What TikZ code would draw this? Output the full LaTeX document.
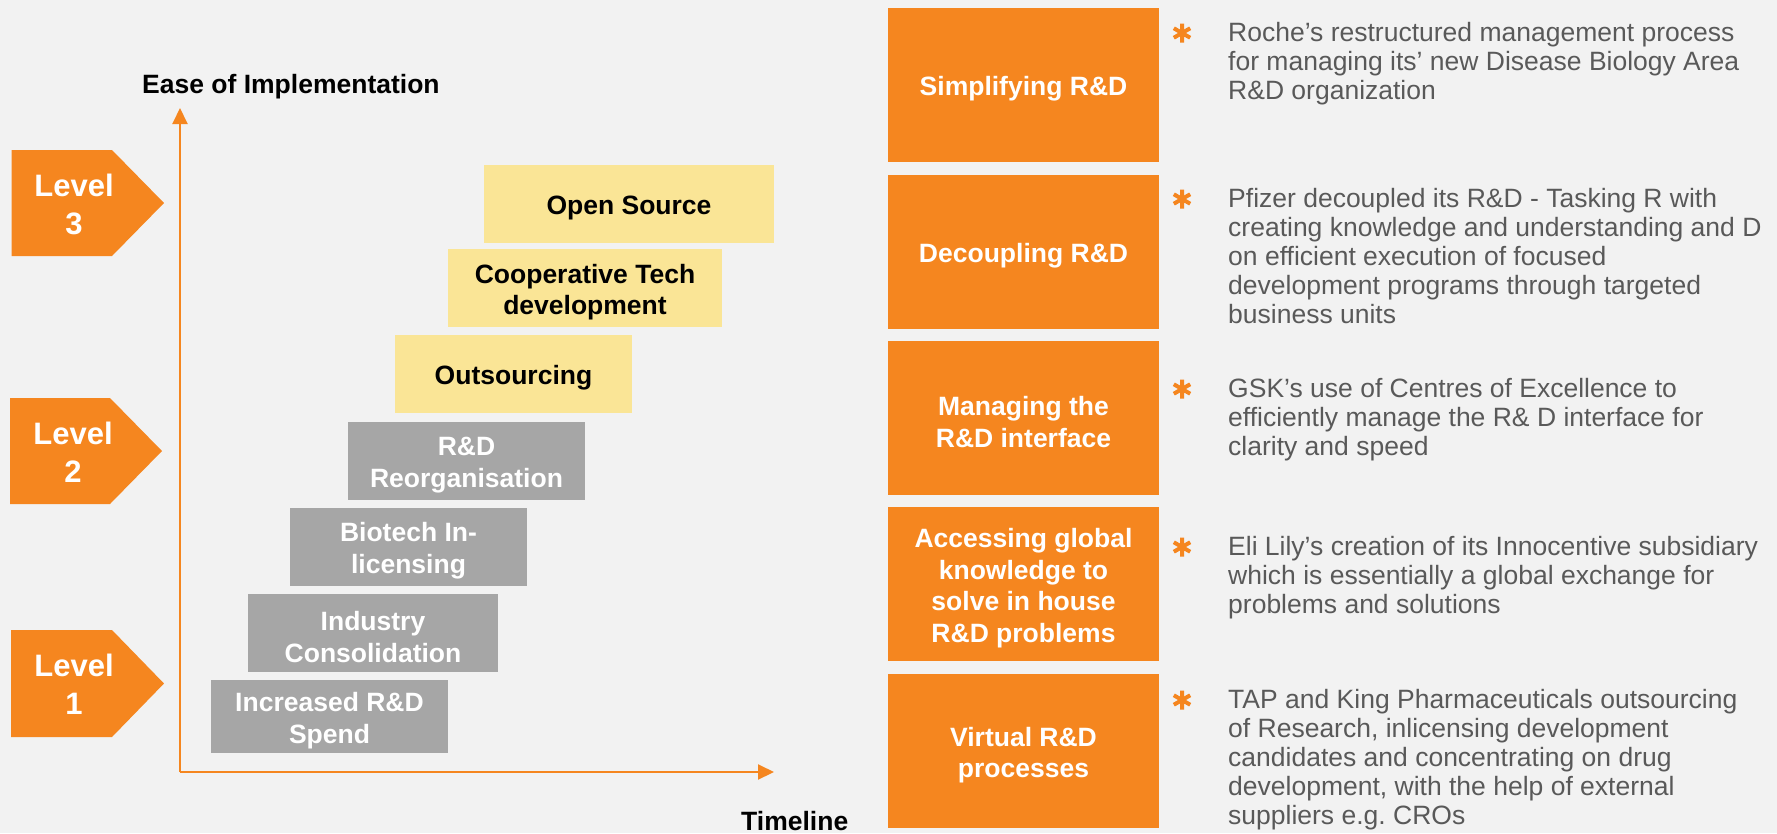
\documentclass[tikz,border=0pt]{standalone}
\usepackage{fontspec}
\setmainfont{Liberation Sans}
\usetikzlibrary{arrows.meta}
\definecolor{bg}{RGB}{242,242,242}
\definecolor{org}{RGB}{245,134,31}
\definecolor{ylw}{RGB}{250,229,150}
\definecolor{gry}{RGB}{166,166,166}
\definecolor{txtgray}{RGB}{89,89,89}
\newcommand\boxlift{\rule{0pt}{27pt}}
\begin{document}
\begin{tikzpicture}[x=1pt,y=-1pt,
  box/.style={inner sep=0pt, align=center, font=\bfseries\fontsize{26.5}{31.5}\selectfont},
  graybox/.style={box, fill=gry, text=white},
  ylwbox/.style={box, fill=ylw, text=black},
  orgbox/.style={box, fill=org, text=white, minimum width=271pt, minimum height=154pt},
  levelshape/.style={fill=org},
  leveltxt/.style={align=center, text=white, font=\bfseries\fontsize{31}{38}\selectfont, inner sep=0pt},
  bullettxt/.style={anchor=north west, align=left, inner sep=0pt, text=txtgray, font=\fontsize{26.5}{28.8}\selectfont},
  axis/.style={draw=org, line width=2pt, -{Triangle[length=16pt,width=15pt]}},
  axlabel/.style={font=\bfseries\fontsize{26.5}{31.5}\selectfont, inner sep=0pt, text=black},
  ast/.pic={\draw[org, line width=4pt] (0,-9.5) -- (0,9.5) (-8.2,-4.75) -- (8.2,4.75) (-8.2,4.75) -- (8.2,-4.75);}
]
\fill[bg] (0,0) rectangle (1777,833);

% axes
\coordinate (o) at (180,772);
\coordinate (ytip) at (180,108);
\coordinate (xtip) at (774,772);
\draw[axis] (o) -- (ytip);
\draw[axis] (o) -- (xtip);
\node[axlabel, anchor=base west] (ylab) at (142,93) {Ease of Implementation};
\node[axlabel, anchor=base west] (xlab) at (741,830) {Timeline};

% level markers
\fill[levelshape] (11.5,150) -- (112,150) -- (164,203) -- (112,256) -- (11.5,256) -- cycle;
\node[leveltxt] (lv3) at (74,204) {Level\\3};
\fill[levelshape] (10,398) -- (110,398) -- (162,451) -- (110,504) -- (10,504) -- cycle;
\node[leveltxt] (lv2) at (73,452) {Level\\2};
\fill[levelshape] (11,630) -- (112,630) -- (164,683.5) -- (112,737) -- (11,737) -- cycle;
\node[leveltxt] (lv1) at (74,684.5) {Level\\1};

% staircase
\node[graybox, minimum width=237pt, minimum height=73pt] (inc) at (329.5,716.5) {\boxlift Increased R\&D\\Spend};
\node[graybox, minimum width=250pt, minimum height=78pt] (ind) at (373,633) {\boxlift Industry\\Consolidation};
\node[graybox, minimum width=237pt, minimum height=78pt] (bio) at (408.5,547) {\boxlift Biotech In-\\licensing};
\node[graybox, minimum width=237pt, minimum height=78pt] (reo) at (466.5,461) {\boxlift R\&D\\Reorganisation};
\node[ylwbox, minimum width=237pt, minimum height=78pt] (out) at (513.5,374) {\boxlift Outsourcing};
\node[ylwbox, minimum width=274pt, minimum height=78pt] (coop) at (585,288) {\boxlift Cooperative Tech\\development};
\node[ylwbox, minimum width=290pt, minimum height=78pt] (open) at (629,204) {\boxlift Open Source};

% orange category boxes
\node[orgbox] (b1) at (1023.5,85) {\boxlift Simplifying R\&D};
\node[orgbox] (b2) at (1023.5,252) {\boxlift Decoupling R\&D};
\node[orgbox] (b3) at (1023.5,418) {\boxlift Managing the\\R\&D interface};
\node[orgbox] (b4) at (1023.5,584) {\boxlift Accessing global\\knowledge to\\solve in house\\R\&D problems};
\node[orgbox] (b5) at (1023.5,751) {\boxlift Virtual R\&D\\processes};

% bullets
\pic at (1182,33) {ast};
\node[bullettxt] (t1) at (1228,22.5) {Roche’s restructured management process\\for managing its’ new Disease Biology Area\\R\&D organization};
\pic at (1182,199) {ast};
\node[bullettxt] (t2) at (1228,188.5) {Pfizer decoupled its R\&D - Tasking R with\\creating knowledge and understanding and D\\on efficient execution of focused\\development programs through targeted\\business units};
\pic at (1182,389) {ast};
\node[bullettxt] (t3) at (1228,378.5) {GSK’s use of Centres of Excellence to\\efficiently manage the R\& D interface for\\clarity and speed};
\pic at (1182,547) {ast};
\node[bullettxt] (t4) at (1228,536.5) {Eli Lily’s creation of its Innocentive subsidiary\\which is essentially a global exchange for\\problems and solutions};
\pic at (1182,700) {ast};
\node[bullettxt] (t5) at (1228,689.5) {TAP and King Pharmaceuticals outsourcing\\of Research, inlicensing development\\candidates and concentrating on drug\\development, with the help of external\\suppliers e.g.\ CROs};
\end{tikzpicture}
\end{document}
